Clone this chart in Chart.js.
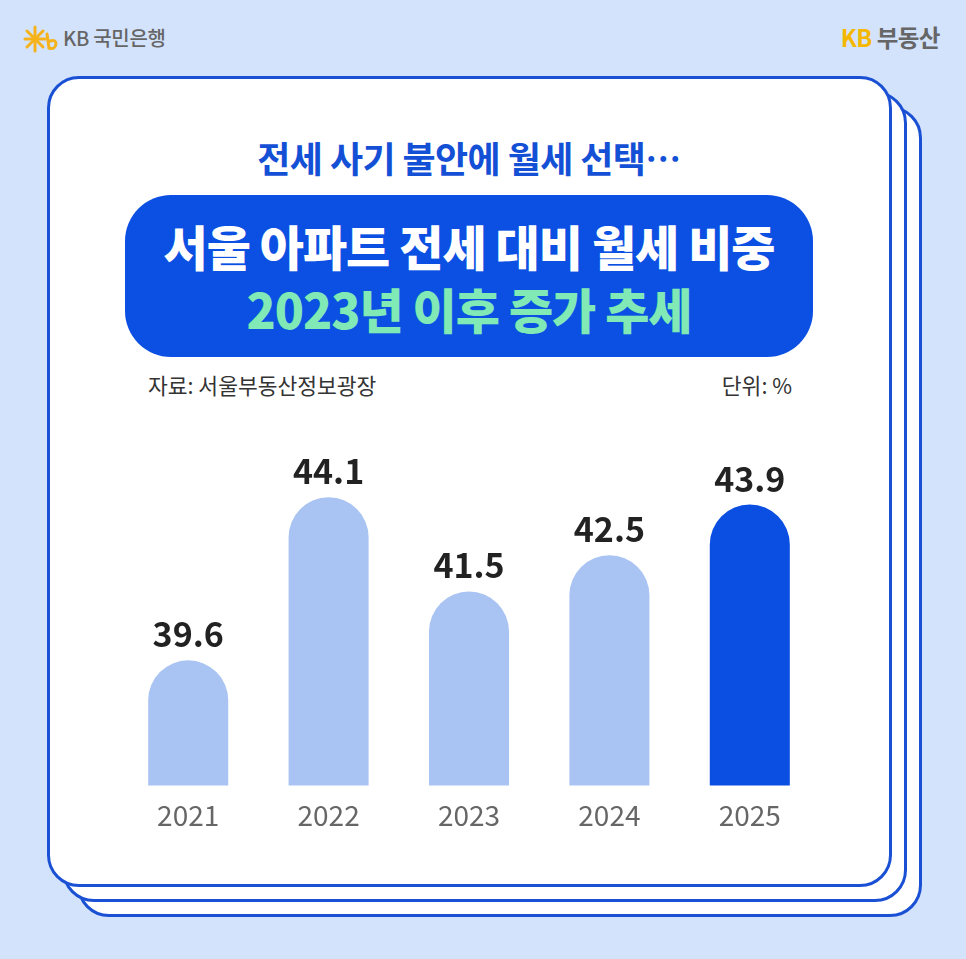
<!DOCTYPE html>
<html><head><meta charset="utf-8">
<script src="https://cdn.jsdelivr.net/npm/chart.js@4/dist/chart.umd.min.js"></script>
<style>
html,body{margin:0;padding:0;}
body{width:966px;height:959px;background:#d4e3fc;position:relative;overflow:hidden;font-family:"Noto Sans CJK KR","Noto Sans",sans-serif;}
.card{position:absolute;box-sizing:border-box;width:845px;height:811px;border:3px solid #1a50d4;border-radius:32px;background:#fff;}
.abs{position:absolute;white-space:nowrap;line-height:1;}
#pill{position:absolute;left:125px;top:195px;width:688px;height:162px;border-radius:46px;background:#0b50e2;}
#c{position:absolute;left:0;top:400px;}
</style></head>
<body>
<div class="card" style="left:77px;top:106px"></div>
<div class="card" style="left:62px;top:91px"></div>
<div class="card" style="left:47px;top:76px"></div>

<svg class="abs" style="left:22px;top:24px" width="40" height="30" viewBox="0 0 40 30">
  <g stroke="#f5b21a" stroke-width="3" stroke-linecap="round" fill="none">
    <line x1="13" y1="3" x2="13" y2="27"/>
    <line x1="3" y1="15" x2="23" y2="15"/>
    <line x1="5" y1="7" x2="21" y2="23"/>
    <line x1="21" y1="7" x2="5" y2="23"/>
    <path d="M25 10 L27 24 Q33 26 34 20 Q34 15 28 17"/>
  </g>
</svg>
<div class="abs" style="left:63px;top:28px;font-size:20px;color:#666;font-weight:500;letter-spacing:-0.3px">KB 국민은행</div>
<div class="abs" style="right:26px;top:26px;font-size:23.5px;font-weight:700;color:#666;letter-spacing:-0.5px"><span style="color:#f5b800">KB</span> 부동산</div>

<div class="abs" style="left:0;width:938px;text-align:center;top:139px;font-size:36px;font-weight:700;color:#1450d6;letter-spacing:-0.6px">전세 사기 불안에 월세 선택…</div>
<div id="pill"></div>
<div class="abs" style="left:125px;width:688px;text-align:center;top:221px;font-size:48px;font-weight:900;color:#fff;letter-spacing:-1px">서울 아파트 전세 대비 월세 비중</div>
<div class="abs" style="left:125px;width:688px;text-align:center;top:284px;font-size:48px;font-weight:900;color:#80e9b5;letter-spacing:-1px">2023년 이후 증가 추세</div>

<div class="abs" style="left:148px;top:374px;font-size:21.5px;color:#333">자료: 서울부동산정보광장</div>
<div class="abs" style="right:174px;top:374px;font-size:21.5px;color:#333">단위: %</div>

<canvas id="c" width="966" height="460"></canvas>
<script>
const years = ["2021","2022","2023","2024","2025"];
const shares = [39.6, 44.1, 41.5, 42.5, 43.9];
const barColors = ["#a9c3f3","#a9c3f3","#a9c3f3","#a9c3f3","#0b4fe2"];

const valueLabels = {
  id:'valueLabels',
  afterDatasetsDraw(chart){
    const ctx = chart.ctx;
    const meta = chart.getDatasetMeta(0);
    ctx.save();
    ctx.font = '700 34px "Noto Sans CJK KR", "Noto Sans", sans-serif';
    ctx.fillStyle = '#222';
    ctx.textAlign = 'center';
    ctx.textBaseline = 'alphabetic';
    meta.data.forEach((bar,i)=>{
      ctx.fillText(shares[i].toFixed(1), bar.x, bar.y - 13);
    });
    ctx.restore();
  }
};

new Chart(document.getElementById('c'), {
  type:'bar',
  data:{labels:years, datasets:[{data:shares, backgroundColor:barColors,
    borderRadius:{topLeft:40,topRight:40,bottomLeft:0,bottomRight:0}, borderSkipped:false,
    barPercentage:0.57, categoryPercentage:1}]},
  options:{
    responsive:false, animation:false,
    layout:{padding:{left:118,right:146,top:40,bottom:15}},
    plugins:{legend:{display:false},tooltip:{enabled:false}},
    scales:{
      y:{display:false,min:36.15,max:45.68},
      x:{grid:{display:false,drawTicks:false},border:{display:false},
         ticks:{padding:13,color:'#666',font:{family:'"Noto Sans CJK KR", "Noto Sans", sans-serif',size:28,weight:'400'}}}
    }
  },
  plugins:[valueLabels]
});
</script>
</body></html>
